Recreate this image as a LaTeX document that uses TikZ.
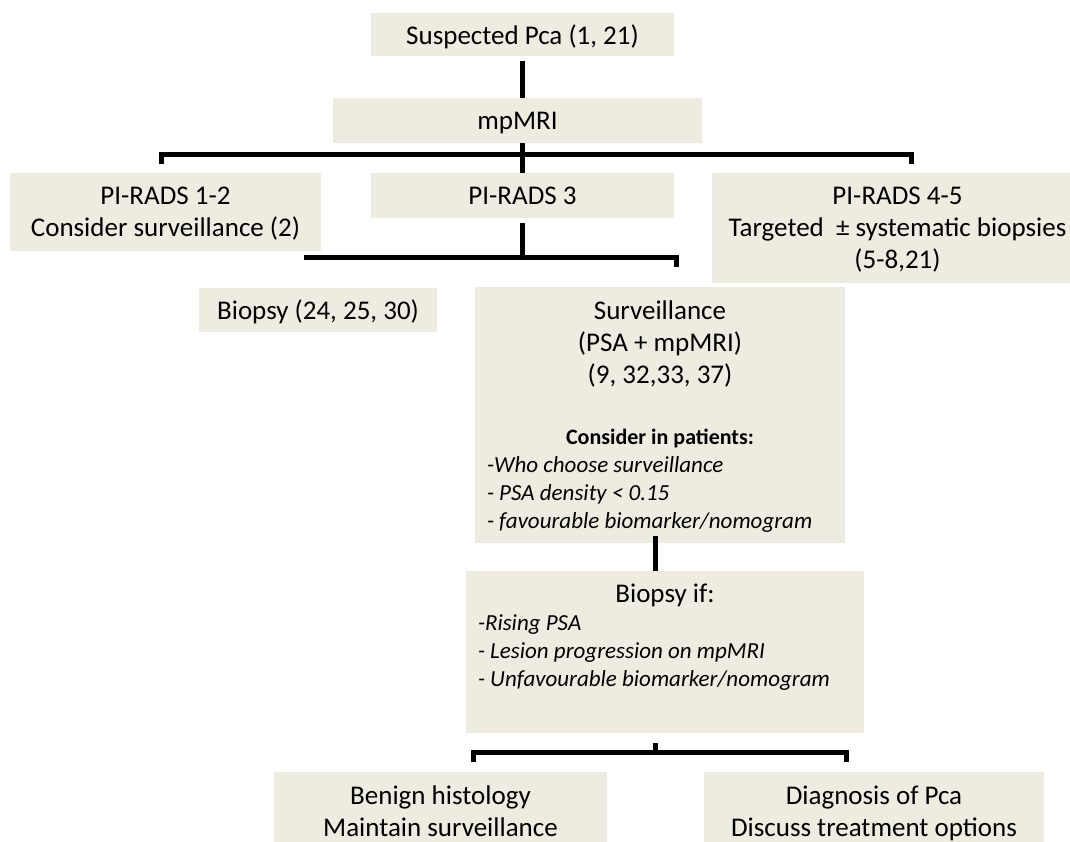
\documentclass[tikz,border=0pt]{standalone}
\usepackage{fontspec}
\setmainfont{Carlito}
\definecolor{boxfill}{HTML}{EEECE1}
\newcommand{\bigtxt}{\fontsize{27}{32}\selectfont}
\newcommand{\smalltxt}{\fontsize{23}{28}\selectfont}

\begin{document}
\begin{tikzpicture}[x=1pt,y=-1pt]
\tikzstyle{every node}+=[inner sep=0pt]
\tikzstyle{box}=[fill=boxfill, anchor=north, inner xsep=12pt, font=\bigtxt,
  execute at begin node={\spaceskip=0pt\xspaceskip=0pt\centering}]
\tikzstyle{link}=[line width=5pt, black, line join=miter]
\useasboundingbox (0,0) rectangle (1070,841);
\clip (0,0) rectangle (1070,841);
% boxes
\node [box, text width=279, text height=31, text depth=12] (sus) at (522.5,13) {Suspected Pca (1, 21)};
\node [box, text width=345, text height=31, text depth=14] (mri) at (517.5,98) {mpMRI};
\node [box, text width=287, text height=31, text depth=47] (pr12) at (165.5,173) {PI-RADS 1-2\\Consider surveillance (2)};
\node [box, text width=279, text height=31, text depth=14] (pr3) at (522.5,173) {PI-RADS 3};
\node [box, text width=347, text height=31, text depth=79] (pr45) at (897.5,173) {PI-RADS 4-5\\Targeted\ \ ± systematic biopsies\\(5-8,21)};
\node [box, text width=214, text height=31, text depth=13] (bx) at (318,288) {Biopsy (24, 25, 30)};
\node [box, text width=346, text height=32, text depth=224] (surv) at (660,287) {%
  Surveillance\\(PSA + mpMRI)\\(9, 32,33, 37)\par
  \vspace{33pt}
  {\fontsize{22}{28}\selectfont\bfseries Consider in patients:\par}
  {\smalltxt\raggedright\itshape -Who choose surveillance\\- PSA density < 0.15\\- favourable biomarker/nomogram\par}};
\node [box, text width=374, text height=31, text depth=131] (bif) at (665,571) {%
  Biopsy if:\par
  {\smalltxt\raggedright\itshape -Rising PSA\\- Lesion progression on mpMRI\\- Unfavourable biomarker/nomogram\par}};
\node [box, text width=309, text height=32, text depth=60] (ben) at (440.5,772) {Benign histology\\Maintain surveillance};
\node [box, text width=316, text height=32, text depth=60] (dia) at (874,772) {Diagnosis of Pca\\Discuss treatment options};
% bracket points
\coordinate (b1) at (522,154);
\coordinate (b1l) at (161,164);
\coordinate (b1r) at (911,164);
\coordinate (b2) at (522,257);
\coordinate (b2l) at (304,257);
\coordinate (b2r) at (676,267);
\coordinate (b3) at (655,752);
\coordinate (b3l) at (473,762);
\coordinate (b3r) at (846,762);
% connectors
\draw [link, shorten <=5pt] (sus.south -| b1) -- (mri.north -| b1);
\draw [link] (mri.south -| b1) -- (pr3.north -| b1);
\draw [link] (b1l) |- (b1) -| (b1r);
\draw [link, shorten <=5pt] (pr3.south -| b2) -- (b2);
\draw [link] (b2l) -| (b2r);
\draw [link, shorten <=-7pt] (surv.south -| b3) -- (bif.north -| b3);
\draw [link, shorten <=10pt] (bif.south -| b3) -- (b3);
\draw [link] (b3l) |- (b3) -| (b3r);
\end{tikzpicture}
\end{document}
